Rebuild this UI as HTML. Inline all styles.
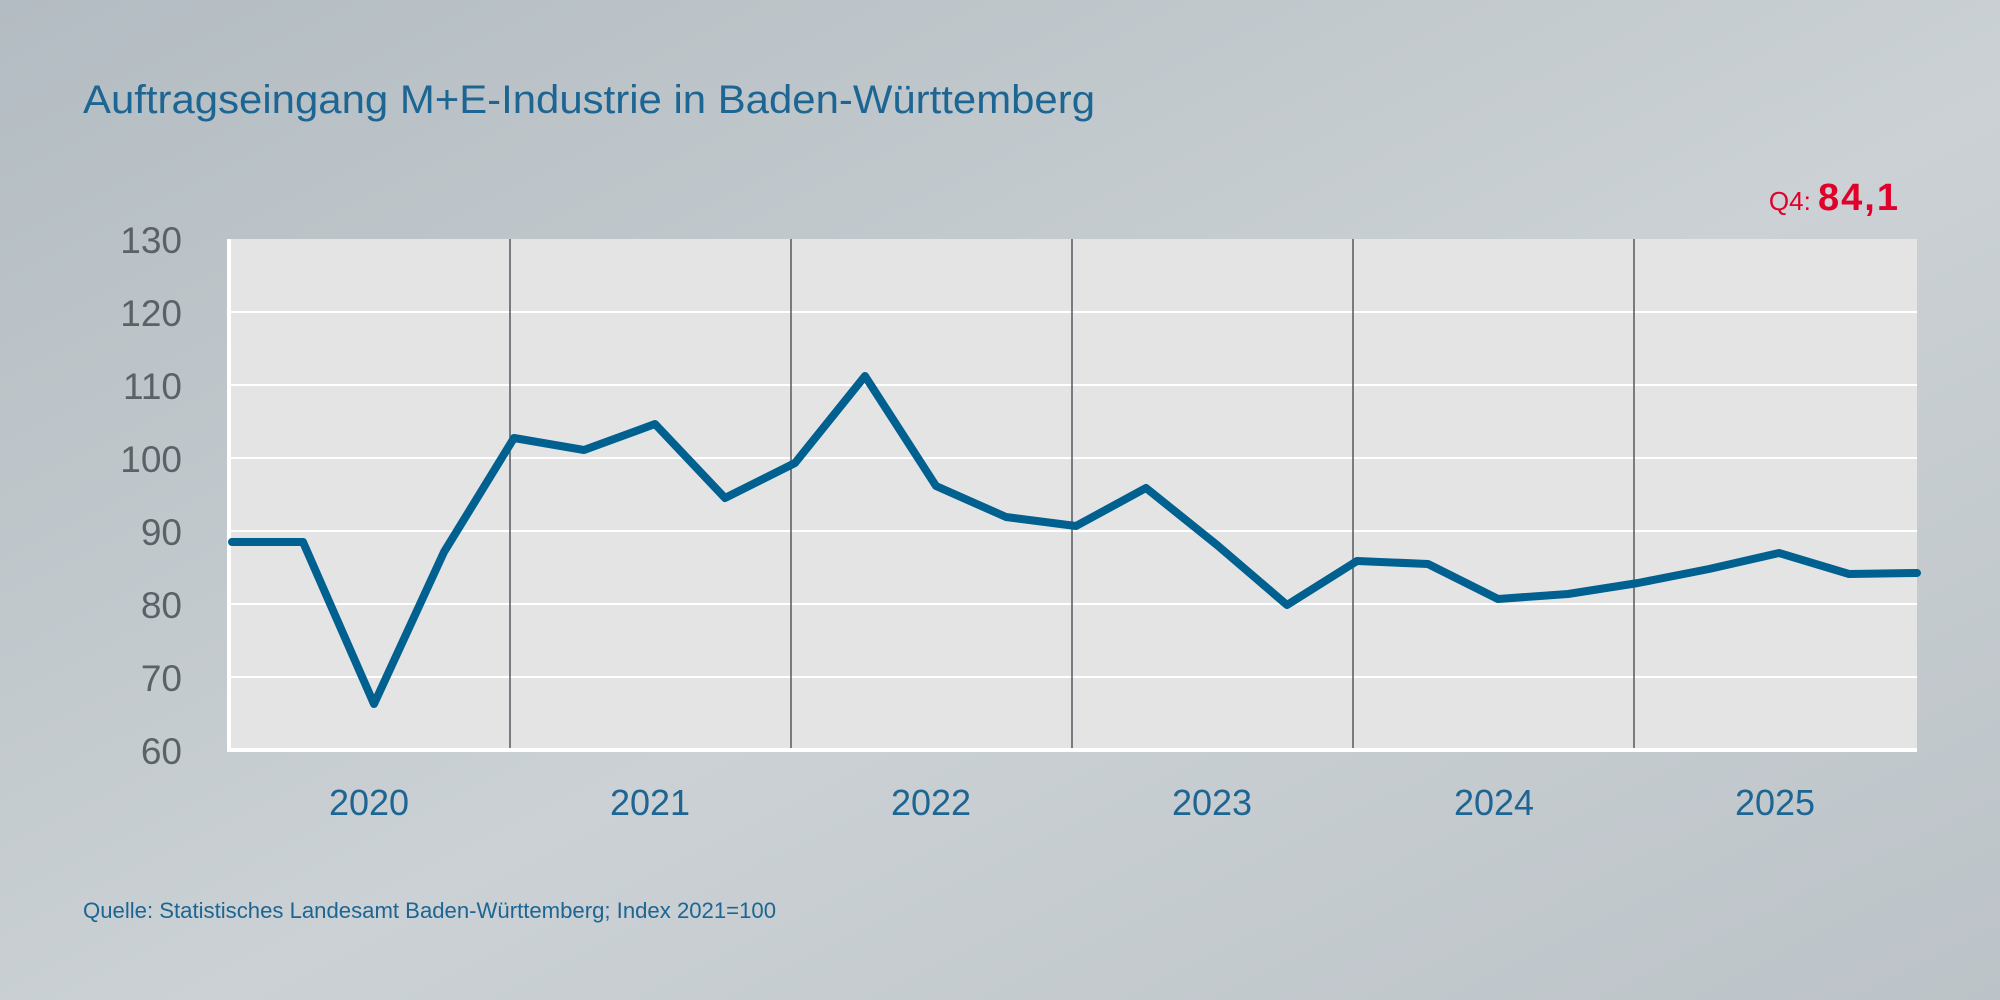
<!DOCTYPE html>
<html><head><meta charset="utf-8"><style>
html,body{margin:0;padding:0;width:2000px;height:1000px;overflow:hidden}
</style></head><body>
<svg width="2000" height="1000" viewBox="0 0 2000 1000" xmlns="http://www.w3.org/2000/svg" font-family="'Liberation Sans', sans-serif">
<defs>
<linearGradient id="bg" x1="0" y1="0" x2="1" y2="1">
<stop offset="0" stop-color="#b3bcc2"/>
<stop offset="0.55" stop-color="#cbd1d4"/>
<stop offset="1" stop-color="#bcc3c8"/>
</linearGradient>
</defs>
<rect width="2000" height="1000" fill="url(#bg)"/>
<text x="83" y="113" font-size="40" fill="#1d6592" textLength="1012" lengthAdjust="spacingAndGlyphs">Auftragseingang M+E-Industrie in Baden-Württemberg</text>
<rect x="227" y="239" width="1690" height="511" fill="#e4e4e4"/>
<g stroke="#ffffff" stroke-width="2">
<line x1="227" y1="312" x2="1917" y2="312"/>
<line x1="227" y1="385" x2="1917" y2="385"/>
<line x1="227" y1="458" x2="1917" y2="458"/>
<line x1="227" y1="531" x2="1917" y2="531"/>
<line x1="227" y1="604" x2="1917" y2="604"/>
<line x1="227" y1="677" x2="1917" y2="677"/>
</g>
<g stroke="#555a5e" stroke-width="1.5">
<line x1="510" y1="239" x2="510" y2="748"/>
<line x1="791" y1="239" x2="791" y2="748"/>
<line x1="1072" y1="239" x2="1072" y2="748"/>
<line x1="1353" y1="239" x2="1353" y2="748"/>
<line x1="1634" y1="239" x2="1634" y2="748"/>
</g>
<line x1="229" y1="239" x2="229" y2="752" stroke="#fff" stroke-width="4"/>
<line x1="227" y1="750" x2="1917" y2="750" stroke="#fff" stroke-width="4"/>
<g font-size="37" fill="#5a6268" text-anchor="end">
<text x="182" y="253">130</text>
<text x="182" y="326">120</text>
<text x="182" y="399">110</text>
<text x="182" y="472">100</text>
<text x="182" y="545">90</text>
<text x="182" y="618">80</text>
<text x="182" y="691">70</text>
<text x="182" y="764">60</text>
</g>
<g font-size="36" fill="#1d6592" text-anchor="middle">
<text x="369" y="815">2020</text>
<text x="650" y="815">2021</text>
<text x="931" y="815">2022</text>
<text x="1212" y="815">2023</text>
<text x="1494" y="815">2024</text>
<text x="1775" y="815">2025</text>
</g>
<polyline fill="none" stroke="#00608f" stroke-width="8" stroke-linejoin="round" stroke-linecap="round"
points="232,542 303,542 374,704 444,552 514,438 584,450 655,424 725,498 795,463 865,376 936,486 1006,517 1076,526 1146,488 1217,545 1287,605 1357,561 1428,564 1498,599 1568,594 1638,583 1709,569 1779,553 1849,574 1917,573"/>
<text x="1900" y="210" text-anchor="end" fill="#e0002a"><tspan font-size="26">Q4: </tspan><tspan font-size="38" font-weight="bold" letter-spacing="2">84,1</tspan></text>
<text x="83" y="918" font-size="22" fill="#1d6592" textLength="693" lengthAdjust="spacingAndGlyphs">Quelle: Statistisches Landesamt Baden-Württemberg; Index 2021=100</text>
</svg>
</body></html>
